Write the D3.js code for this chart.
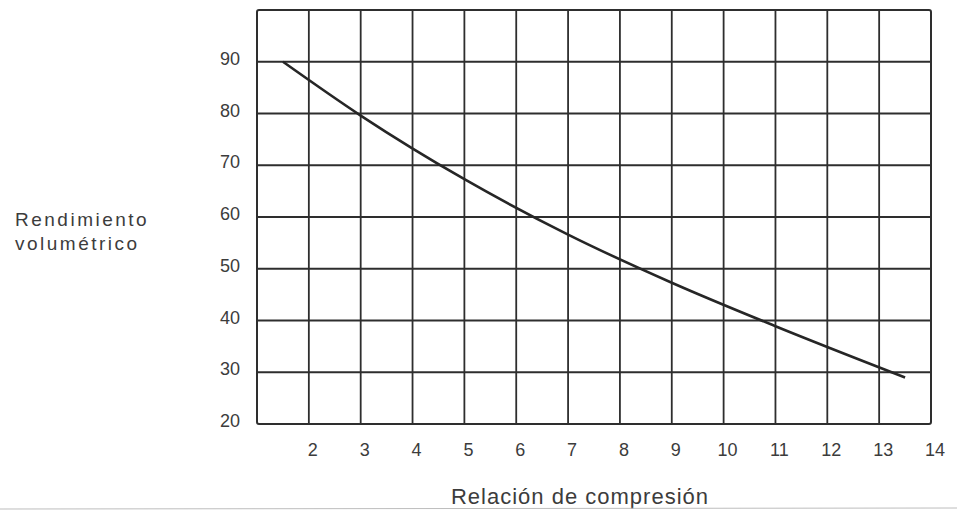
<!DOCTYPE html>
<html>
<head>
<meta charset="utf-8">
<script src="https://cdn.jsdelivr.net/npm/d3@7"></script>
<style>
  body { margin: 0; background: #fff; }
  svg { display: block; }
  text { font-family: "Liberation Sans", Arial, sans-serif; fill: #3c3c3c; }
</style>
</head>
<body>
<svg id="chart"></svg>
<script>
// Curve
var relacion = [1.5, 3, 5, 7, 9, 11, 13.5];
var rendimiento = [90, 79.6, 67.3, 56.6, 47.3, 38.9, 29];

var xTicks = [2, 3, 4, 5, 6, 7, 8, 9, 10, 11, 12, 13, 14];
var yTicks = [20, 30, 40, 50, 60, 70, 80, 90];
var xGrid = [2, 3, 4, 5, 6, 7, 8, 9, 10, 11, 12, 13];
var yGrid = [30, 40, 50, 60, 70, 80, 90];

var width = 957, height = 513;

var svg = d3.select("#chart")
    .attr("width", width)
    .attr("height", height);

var x = d3.scaleLinear().domain([1, 14]).range([257, 931]);
var y = d3.scaleLinear().domain([20, 100]).range([424, 10]);

var ink = "#2e2e2e";

// vertical grid lines
svg.selectAll(".vgrid")
    .data(xGrid)
    .enter().append("line")
    .attr("x1", function(d) { return x(d); })
    .attr("x2", function(d) { return x(d); })
    .attr("y1", y(100))
    .attr("y2", y(20))
    .style("stroke", ink)
    .style("stroke-width", 1.8);

// horizontal grid lines
svg.selectAll(".hgrid")
    .data(yGrid)
    .enter().append("line")
    .attr("x1", x(1))
    .attr("x2", x(14))
    .attr("y1", function(d) { return y(d); })
    .attr("y2", function(d) { return y(d); })
    .style("stroke", ink)
    .style("stroke-width", 1.8);

// outer frame
svg.append("rect")
    .attr("x", x(1))
    .attr("y", y(100))
    .attr("width", x(14) - x(1))
    .attr("height", y(20) - y(100))
    .attr("rx", 2)
    .style("fill", "none")
    .style("stroke", ink)
    .style("stroke-width", 2);

// the curve
var line = d3.line()
    .x(function(d) { return x(d[0]); })
    .y(function(d) { return y(d[1]); })
    .curve(d3.curveMonotoneX);

svg.append("path")
    .datum(d3.zip(relacion, rendimiento))
    .attr("d", line)
    .style("fill", "none")
    .style("stroke", "#262626")
    .style("stroke-width", 2.6);

// x tick labels
svg.selectAll(".xlab")
    .data(xTicks)
    .enter().append("text")
    .attr("x", function(d) { return x(d) + 4; })
    .attr("y", 456)
    .attr("text-anchor", "middle")
    .style("font-size", "18px")
    .text(function(d) { return d; });

// y tick labels
svg.selectAll(".ylab")
    .data(yTicks)
    .enter().append("text")
    .attr("x", 240)
    .attr("y", function(d) { return y(d) + 3; })
    .attr("text-anchor", "end")
    .style("font-size", "18px")
    .text(function(d) { return d; });

// axis titles
svg.append("text")
    .attr("x", 580)
    .attr("y", 504)
    .attr("text-anchor", "middle")
    .style("font-size", "22px")
    .style("letter-spacing", "1px")
    .text("Relación de compresión");

svg.append("text")
    .attr("x", 15)
    .attr("y", 226)
    .style("font-size", "19px")
    .style("letter-spacing", "2.5px")
    .text("Rendimiento");

svg.append("text")
    .attr("x", 15)
    .attr("y", 250)
    .style("font-size", "19px")
    .style("letter-spacing", "2.5px")
    .text("volumétrico");

// faint scan edge under the x title
svg.append("line")
    .attr("x1", 0)
    .attr("x2", width)
    .attr("y1", 509)
    .attr("y2", 508)
    .style("stroke", "#bdbdbd")
    .style("stroke-width", 1);
</script>
</body>
</html>
